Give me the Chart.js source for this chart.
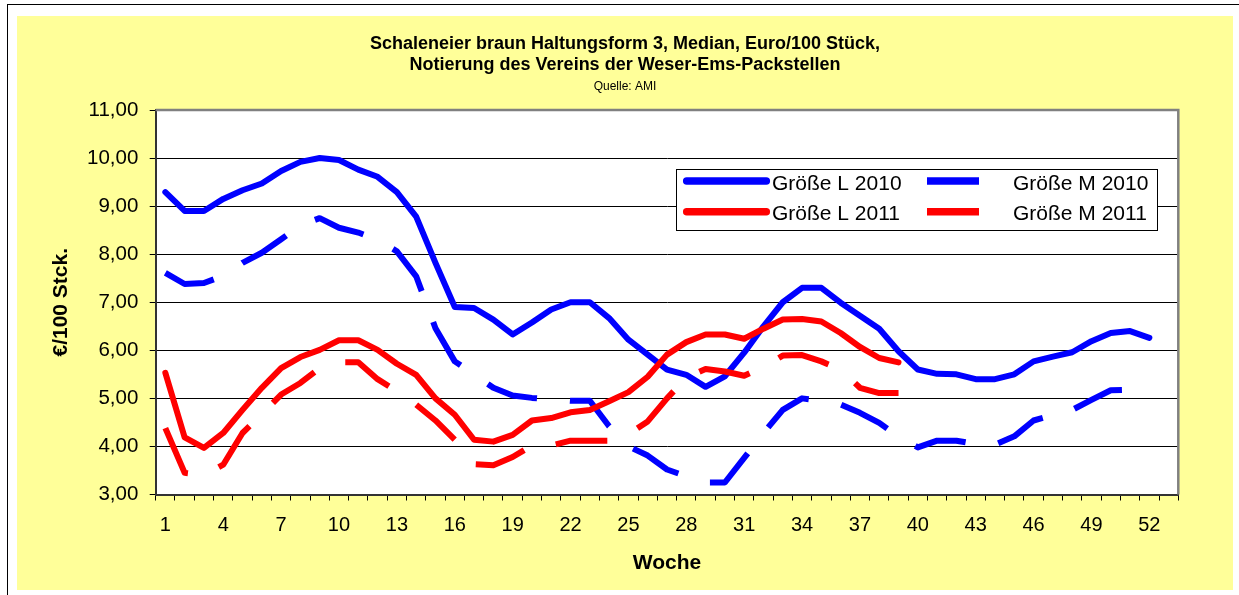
<!DOCTYPE html>
<html lang="de">
<head>
    <meta charset="UTF-8">
    <title>Schaleneier braun Haltungsform 3</title>
    <script src="https://cdn.jsdelivr.net/npm/chart.js@4/dist/chart.umd.min.js"></script>
    <style>
        body{
            margin: 0;
            background: #fff;
            overflow: hidden;
        }
        #frame{
            position: absolute;
            left: 7px;
            top: 4px;
            width: 1300px;
            height: 650px;
            border-left: 1px solid #000;
            border-top: 1px solid #000;
        }
        #box{
            position: absolute;
            left: 17px;
            top: 16px;
            width: 1216px;
            height: 574px;
            background: #ffff99;
        }
    </style>
</head>
<body>
    <div id="frame"></div>
    <div id="box">
        <canvas id="eggChart"></canvas>
    </div>

    <script>
        // Kalenderwochen
        const weeks = ['1','2','3','4','5','6','7','8','9','10','11','12','13','14','15','16','17','18','19','20',
            '21','22','23','24','25','26','27','28','29','30','31','32','33','34','35','36','37','38','39','40',
            '41','42','43','44','45','46','47','48','49','50','51','52','53'];

        // Euro/100 Stück
        const sizeL2010 = [9.29, 8.90, 8.90, 9.15, 9.33, 9.47, 9.73, 9.92, 10.00, 9.96,
            9.76, 9.61, 9.29, 8.78, 7.82, 6.90, 6.88, 6.64, 6.33, 6.58,
            6.85, 7.00, 7.00, 6.67, 6.22, 5.91, 5.60, 5.49, 5.24, 5.46,
            5.95, 6.50, 7.00, 7.30, 7.30, 6.99, 6.72, 6.45, 5.98, 5.60,
            5.51, 5.50, 5.40, 5.40, 5.50, 5.77, 5.87, 5.96, 6.19, 6.36,
            6.40, 6.26];
        const sizeM2010 = [7.61, 7.38, 7.40, 7.55, 7.82, 8.03, 8.31, 8.60, 8.75, 8.55,
            8.45, 8.30, 8.06, 7.54, 6.46, 5.77, 5.50, 5.22, 5.06, 5.01,
            4.98, 4.95, 4.95, 4.42, 4.00, 3.81, 3.52, 3.38, 3.25, 3.25,
            3.76, 4.28, 4.76, 5.00, 4.95, 4.87, 4.70, 4.49, 4.20, 3.98,
            4.12, 4.12, 4.05, 4.04, 4.21, 4.54, 4.65, 4.76, 4.97, 5.17,
            5.18];
        const sizeL2011 = [5.53, 4.19, 3.97, 4.28, 4.76, 5.22, 5.63, 5.86, 6.01, 6.21,
            6.21, 6.01, 5.72, 5.49, 5.00, 4.66, 4.14, 4.10, 4.24, 4.54,
            4.59, 4.71, 4.76, 4.94, 5.13, 5.45, 5.91, 6.17, 6.33, 6.33,
            6.24, 6.45, 6.64, 6.65, 6.60, 6.36, 6.07, 5.84, 5.75];
        const sizeM2011 = [4.38, 3.45, 3.40, 3.62, 4.28, 4.67, 5.08, 5.32, 5.63, 5.75,
            5.75, 5.40, 5.15, 4.87, 4.54, 4.14, 3.63, 3.61, 3.78, 4.02,
            4.02, 4.12, 4.12, 4.12, 4.25, 4.52, 5.00, 5.43, 5.61, 5.56,
            5.47, 5.65, 5.89, 5.90, 5.77, 5.60, 5.22, 5.11, 5.11];

        const seriesNames = ['Größe L 2010', 'Größe M 2010', 'Größe L 2011', 'Größe M 2011'];
        const yTicks = [3, 4, 5, 6, 7, 8, 9, 10, 11];

        const BLUE = '#0000ff';
        const RED = '#ff0000';
        const DASH = [52, 33];

        Chart.defaults.font.family = 'Arial, "Liberation Sans", sans-serif';
        Chart.defaults.color = '#000';

        // white plot area + grey frame like Excel
        const plotFrame = {
            id: 'plotFrame',
            beforeDraw(chart) {
                const {ctx, chartArea: a} = chart;
                ctx.save();
                ctx.fillStyle = '#fff';
                ctx.fillRect(a.left, a.top, a.width, a.height);
                ctx.restore();
            },
            beforeDatasetsDraw(chart) {
                const {ctx, chartArea: a} = chart;
                ctx.save();
                ctx.strokeStyle = '#808080';
                ctx.lineWidth = 2.5;
                ctx.beginPath();
                ctx.moveTo(a.left, a.top);
                ctx.lineTo(a.right, a.top);
                ctx.lineTo(a.right, a.bottom);
                ctx.stroke();
                ctx.restore();
            }
        };

        // legend box inside the plot, two columns
        const boxLegend = {
            id: 'boxLegend',
            afterDraw(chart) {
                const {ctx, chartArea: a} = chart;
                const left = a.left + 520.3, top = a.top + 59, w = 481, h = 61;
                ctx.save();
                ctx.fillStyle = '#fff';
                ctx.fillRect(left, top, w, h);
                ctx.strokeStyle = '#000';
                ctx.lineWidth = 1;
                ctx.strokeRect(Math.round(left) + 0.5, Math.round(top) + 0.5, w, h);

                const lineX = [7, 251];
                const textX = [96, 337];
                const rowY = [12, 42.7];
                chart.data.datasets.forEach((ds, i) => {
                    const col = i % 2, row = Math.floor(i / 2);
                    const y = top + rowY[row];
                    const x0 = left + lineX[col];
                    ctx.strokeStyle = ds.borderColor;
                    ctx.lineWidth = 7.5;
                    ctx.beginPath();
                    if (ds.borderDash.length) {
                        ctx.setLineDash(ds.borderDash);
                        ctx.lineCap = 'butt';
                        ctx.moveTo(x0, y);
                        ctx.lineTo(x0 + 85, y);
                    } else {
                        ctx.setLineDash([]);
                        ctx.lineCap = 'round';
                        ctx.moveTo(x0 + 3.7, y);
                        ctx.lineTo(x0 + 87 - 3.7, y);
                    }
                    ctx.stroke();
                    ctx.setLineDash([]);
                    ctx.fillStyle = '#000';
                    ctx.font = '21px Arial, "Liberation Sans", sans-serif';
                    ctx.textBaseline = 'middle';
                    ctx.textAlign = 'left';
                    ctx.fillText(ds.label, left + textX[col], y + 3);
                });
                ctx.restore();
            }
        };

        function lineSet(label, data, color, dashed, order) {
            return {
                label: label,
                data: data,
                borderColor: color,
                backgroundColor: color,
                borderWidth: 6,
                borderDash: dashed ? DASH : [],
                borderCapStyle: dashed ? 'butt' : 'round',
                borderJoinStyle: 'round',
                pointRadius: 0,
                pointHoverRadius: 0,
                tension: 0,
                fill: false,
                order: order
            };
        }

        const ctx = document.getElementById('eggChart').getContext('2d');
        const eggChart = new Chart(ctx, {
            type: 'line',
            data: {
                labels: weeks,
                datasets: [
                    lineSet(seriesNames[0], sizeL2010, BLUE, false, 4),
                    lineSet(seriesNames[1], sizeM2010, BLUE, true, 3),
                    lineSet(seriesNames[2], sizeL2011, RED, false, 2),
                    lineSet(seriesNames[3], sizeM2011, RED, true, 1)
                ]
            },
            options: {
                responsive: true,
                maintainAspectRatio: false,
                animation: false,
                events: [],
                layout: { padding: 0 },
                plugins: {
                    legend: { display: false },
                    tooltip: { enabled: false },
                    title: {
                        display: true,
                        text: ['Schaleneier braun Haltungsform 3, Median, Euro/100 Stück,',
                               'Notierung des Vereins der Weser-Ems-Packstellen'],
                        font: { size: 18, weight: 'bold', lineHeight: 1.1667 },
                        padding: { top: 17.5, bottom: 0 },
                        color: '#000'
                    },
                    subtitle: {
                        display: true,
                        text: 'Quelle: AMI',
                        font: { size: 12, lineHeight: 1.2 },
                        padding: { top: 4.3, bottom: 15.8 },
                        color: '#000'
                    }
                },
                scales: {
                    x: {
                        type: 'category',
                        offset: true,
                        grid: {
                            drawOnChartArea: false,
                            offset: true,
                            tickLength: 6,
                            tickColor: '#000'
                        },
                        border: { color: '#333', width: 2 },
                        ticks: {
                            autoSkip: false,
                            maxRotation: 0,
                            padding: 13,
                            font: { size: 20 },
                            callback: (v, i) => (i % 3 === 0 ? weeks[i] : '')
                        },
                        title: {
                            display: true,
                            text: 'Woche',
                            font: { size: 21, weight: 'bold', lineHeight: 1.2 },
                            padding: { top: 0, bottom: 14.4 }
                        },
                        afterFit(scale) {
                            scale.height = 95.5;
                            scale.paddingRight = 54.7;
                        }
                    },
                    y: {
                        min: yTicks[0],
                        max: yTicks[yTicks.length - 1],
                        afterBuildTicks(scale) {
                            scale.ticks = yTicks.map(v => ({ value: v }));
                        },
                        grid: {
                            color: '#000',
                            lineWidth: 1,
                            tickLength: 6,
                            tickColor: '#000'
                        },
                        border: { color: '#333', width: 2 },
                        ticks: {
                            padding: 11.4,
                            font: { size: 20.5 },
                            callback: v => v.toFixed(2).replace('.', ',')
                        },
                        title: {
                            display: true,
                            text: '€/100 Stck.',
                            font: { size: 21, weight: 'bold', lineHeight: 1.2 },
                            padding: { top: 32.1, bottom: 0 }
                        },
                        afterFit(scale) {
                            scale.width = 138.7;
                        }
                    }
                }
            },
            plugins: [plotFrame, boxLegend]
        });
    </script>
</body>
</html>
